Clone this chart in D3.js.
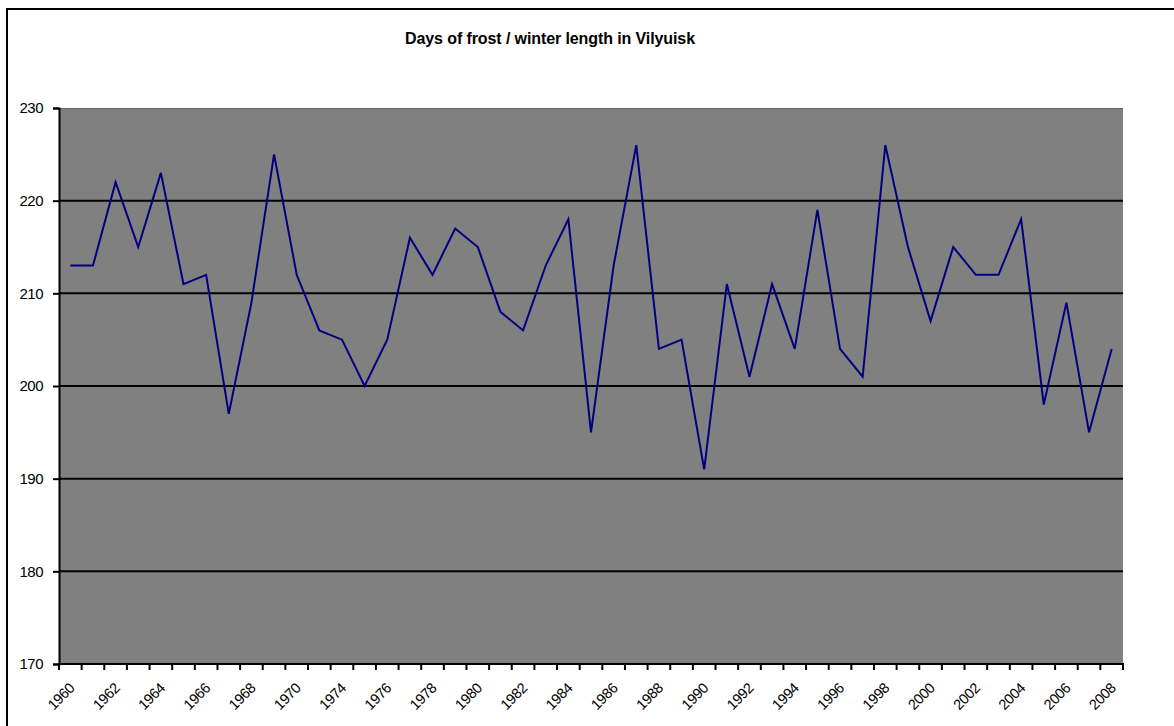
<!DOCTYPE html>
<html>
<head>
<meta charset="utf-8">
<script src="https://cdn.jsdelivr.net/npm/d3@7"></script>
<style>
  body { margin: 0; background: #fff; }
  svg { display: block; font-family: "Liberation Sans", Arial, sans-serif; }
</style>
</head>
<body>
<div id="chart"></div>
<script>
// categories (the sheet has no 1972/1973 rows, labels jump 1970 -> 1974)
var years = [
    1960, 1961, 1962, 1963, 1964, 1965, 1966, 1967, 1968, 1969, 1970, 1971,
    1974, 1975, 1976, 1977, 1978, 1979, 1980, 1981, 1982, 1983, 1984, 1985,
    1986, 1987, 1988, 1989, 1990, 1991, 1992, 1993, 1994, 1995, 1996, 1997,
    1998, 1999, 2000, 2001, 2002, 2003, 2004, 2005, 2006, 2007, 2008
];
// days of frost per winter
var frostDays = [
    213, 213, 222, 215, 223, 211, 212, 197, 209, 225, 212, 206,
    205, 200, 205, 216, 212, 217, 215, 208, 206, 213, 218, 195,
    213, 226, 204, 205, 191, 211, 201, 211, 204, 219, 204, 201,
    226, 215, 207, 215, 212, 212, 218, 198, 209, 195, 204
];
var yTicks = [170, 180, 190, 200, 210, 220, 230];
var title = 'Days of frost / winter length in Vilyuisk';

var W = 1174, H = 726;
var plotL = 59, plotR = 1123, plotT = 108, plotB = 664;

var svg = d3.select('#chart').append('svg')
    .attr('width', W)
    .attr('height', H);

// outer chart frame
svg.append('rect')
    .attr('x', 7).attr('y', 9)
    .attr('width', W + 20).attr('height', H + 20)
    .attr('fill', '#fff')
    .attr('stroke', '#000')
    .attr('stroke-width', 2);

svg.append('text')
    .attr('x', 550).attr('y', 44)
    .attr('text-anchor', 'middle')
    .attr('font-size', 16)
    .attr('font-weight', 'bold')
    .attr('letter-spacing', -0.1)
    .text(title);

var x = d3.scaleBand().domain(years).range([plotL, plotR]);
var y = d3.scaleLinear().domain([170, 230]).range([plotB, plotT]);

// plot area
svg.append('rect')
    .attr('x', plotL).attr('y', plotT)
    .attr('width', plotR - plotL).attr('height', plotB - plotT)
    .attr('fill', '#808080');
svg.append('line')
    .attr('x1', plotL).attr('x2', plotR)
    .attr('y1', plotT + 0.5).attr('y2', plotT + 0.5)
    .attr('stroke', '#666')
    .attr('stroke-width', 1);

// gridlines
svg.append('g').selectAll('line')
    .data(yTicks.filter(function (d) { return d > 170 && d < 230; }))
    .enter().append('line')
    .attr('x1', plotL).attr('x2', plotR)
    .attr('y1', function (d) { return y(d); })
    .attr('y2', function (d) { return y(d); })
    .attr('stroke', '#000')
    .attr('stroke-width', 2);

// y axis
var yAxis = svg.append('g')
    .attr('transform', 'translate(' + plotL + ',0)')
    .call(d3.axisLeft(y).tickValues(yTicks).tickSize(6).tickPadding(10));
yAxis.select('.domain').attr('stroke-width', 2);
yAxis.selectAll('.tick line').attr('stroke-width', 2);
yAxis.selectAll('text')
    .attr('font-size', 15)
    .attr('fill', '#000')
    .attr('letter-spacing', -0.5)
    .attr('font-family', '"Liberation Sans", Arial, sans-serif');

// x axis: ticks on category boundaries
var xg = svg.append('g');
xg.append('line')
    .attr('x1', plotL - 1).attr('x2', plotR + 1)
    .attr('y1', plotB).attr('y2', plotB)
    .attr('stroke', '#000')
    .attr('stroke-width', 2);
var bounds = years.map(function (d) { return x(d); }).concat([plotR]);
xg.selectAll('line.tk')
    .data(bounds)
    .enter().append('line')
    .attr('class', 'tk')
    .attr('x1', function (d) { return d; })
    .attr('x2', function (d) { return d; })
    .attr('y1', plotB)
    .attr('y2', plotB + 6)
    .attr('stroke', '#000')
    .attr('stroke-width', 2);

// labels every second category
xg.selectAll('text')
    .data(years.filter(function (d, i) { return i % 2 === 0; }))
    .enter().append('text')
    .attr('font-size', 14.5)
    .attr('letter-spacing', -0.4)
    .attr('text-anchor', 'end')
    .attr('transform', function (d) {
        var cx = x(d) + x.bandwidth() / 2 + 5;
        return 'translate(' + cx + ',689) rotate(-45)';
    })
    .text(function (d) { return d; });

// the series
var line = d3.line()
    .x(function (d, i) { return x(years[i]) + x.bandwidth() / 2; })
    .y(function (d) { return y(d); });

svg.append('path')
    .datum(frostDays)
    .attr('d', line)
    .attr('fill', 'none')
    .attr('stroke', '#000080')
    .attr('stroke-width', 2);
</script>
</body>
</html>
